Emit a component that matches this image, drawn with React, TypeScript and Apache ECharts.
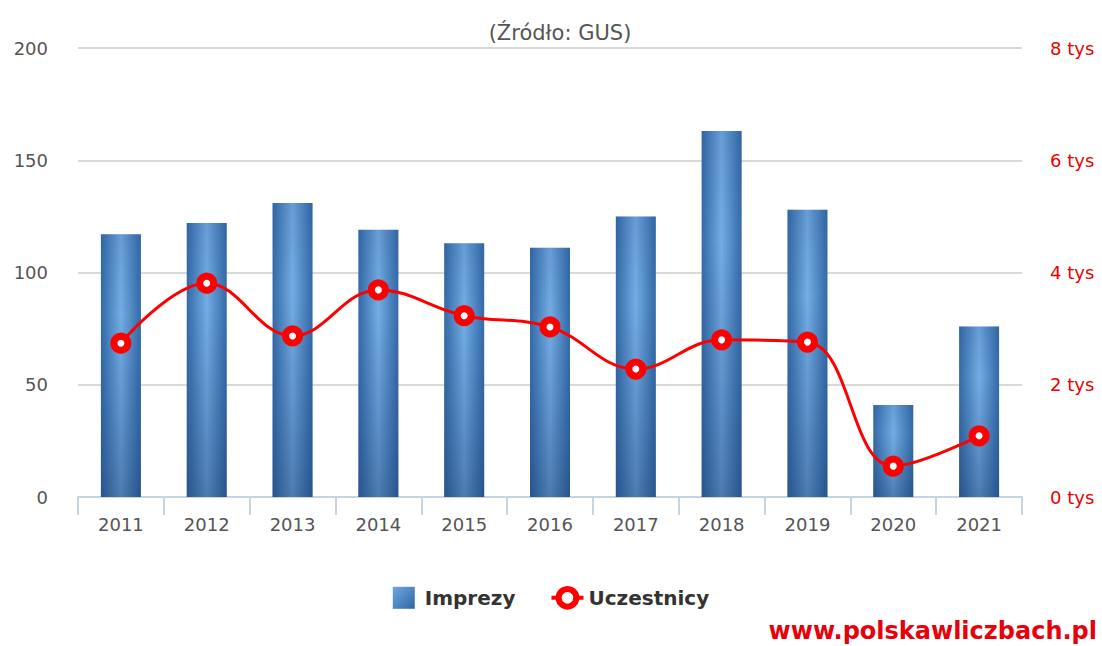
import React, { useEffect, useRef } from "react";
import * as echarts from "echarts";

const years = ["2011", "2012", "2013", "2014", "2015", "2016", "2017", "2018", "2019", "2020", "2021"];
const imprezy = [117, 122, 131, 119, 113, 111, 125, 163, 128, 41, 76];
const uczestnicy = [2740, 3810, 2870, 3690, 3230, 3030, 2280, 2800, 2760, 550, 1090];

const FONT = "DejaVu Sans";

export default function App() {
  const ref = useRef<HTMLDivElement>(null);
  useEffect(() => {
    if (!ref.current) return;
    const chart = echarts.init(ref.current, undefined, { renderer: "svg" });
    const barGrad = new echarts.graphic.LinearGradient(0, 0, 1, 0, [
      { offset: 0, color: "#336aa8" },
      { offset: 0.5, color: "#74ade4" },
      { offset: 1, color: "#336aa8" },
    ]);
    const shade = new echarts.graphic.LinearGradient(0, 0, 0, 1, [
      { offset: 0, color: "rgba(30,70,130,0.15)" },
      { offset: 0.3, color: "rgba(30,70,130,0)" },
      { offset: 1, color: "rgba(20,50,100,0.4)" },
    ]);
    const legendGrad = new echarts.graphic.LinearGradient(0, 0, 1, 1, [
      { offset: 0, color: "#6fa8e0" },
      { offset: 1, color: "#2f66a4" },
    ]);
    chart.setOption({
      animation: false,
      textStyle: { fontFamily: FONT },
      title: {
        text: "(Źródło: GUS)",
        left: 555,
        textAlign: "center",
        top: 17,
        textStyle: { fontFamily: FONT, fontSize: 21, fontWeight: "normal", color: "#555" },
      },
      legend: {
        data: [
          { name: "Imprezy", icon: "path://M0,0L22,0L22,22L0,22Z", itemStyle: { color: legendGrad } },
          {
            name: "Uczestnicy",
            itemStyle: { color: "#ffffff", borderColor: "#ff0000", borderWidth: 6 },
            lineStyle: { color: "#ff0000", width: 4 },
          },
        ],
        left: "center",
        top: 581,
        itemGap: 34,
        itemWidth: 32,
        itemHeight: 22,
        textStyle: { fontFamily: FONT, fontSize: 20, fontWeight: "bold", color: "#333" },
      },
      graphic: [
        {
          type: "text",
          right: 5,
          top: 619,
          style: {
            text: "www.polskawliczbach.pl",
            fill: "#e8000b",
            font: `bold 24px "${FONT}"`,
          },
        },
      ],
      grid: { left: 78, right: 80, top: 48, bottom: 149 },
      xAxis: {
        type: "category",
        data: years,
        axisLine: { lineStyle: { color: "#c5d3e2", width: 2 } },
        axisTick: { show: true, length: 18, lineStyle: { color: "#c5d3e2", width: 2 } },
        axisLabel: { color: "#555", fontSize: 18, margin: 18, fontFamily: FONT },
      },
      yAxis: [
        {
          type: "value",
          min: 0,
          max: 200,
          interval: 50,
          axisLine: { show: false },
          axisTick: { show: false },
          axisLabel: { color: "#555", fontSize: 18, margin: 30, fontFamily: FONT },
          splitLine: { lineStyle: { color: "#d9d9d9", width: 2 } },
        },
        {
          type: "value",
          min: 0,
          max: 8000,
          interval: 2000,
          position: "right",
          axisLine: { show: false },
          axisTick: { show: false },
          splitLine: { show: false },
          axisLabel: {
            color: "#ee0000",
            fontSize: 18,
            margin: 28,
            fontFamily: FONT,
            formatter: (v: number) => `${v / 1000} tys`,
          },
        },
      ],
      series: [
        {
          name: "Imprezy",
          type: "bar",
          data: imprezy,
          barWidth: 40,
          barGap: "-100%",
          itemStyle: { color: barGrad },
        },
        {
          name: "shade",
          type: "bar",
          data: imprezy,
          barWidth: 40,
          barGap: "-100%",
          silent: true,
          itemStyle: { color: shade },
        },
        {
          name: "Uczestnicy",
          type: "line",
          yAxisIndex: 1,
          data: uczestnicy,
          smooth: 0.4,
          symbol: "circle",
          symbolSize: 14,
          lineStyle: { color: "#ff0000", width: 3 },
          itemStyle: { color: "#ffffff", borderColor: "#ff0000", borderWidth: 7 },
        },
      ],
    });
    return () => chart.dispose();
  }, []);
  return (
    <div
      ref={ref}
      style={{ position: "fixed", left: 0, top: 0, width: 1102, height: 646, background: "#fff" }}
    />
  );
}
